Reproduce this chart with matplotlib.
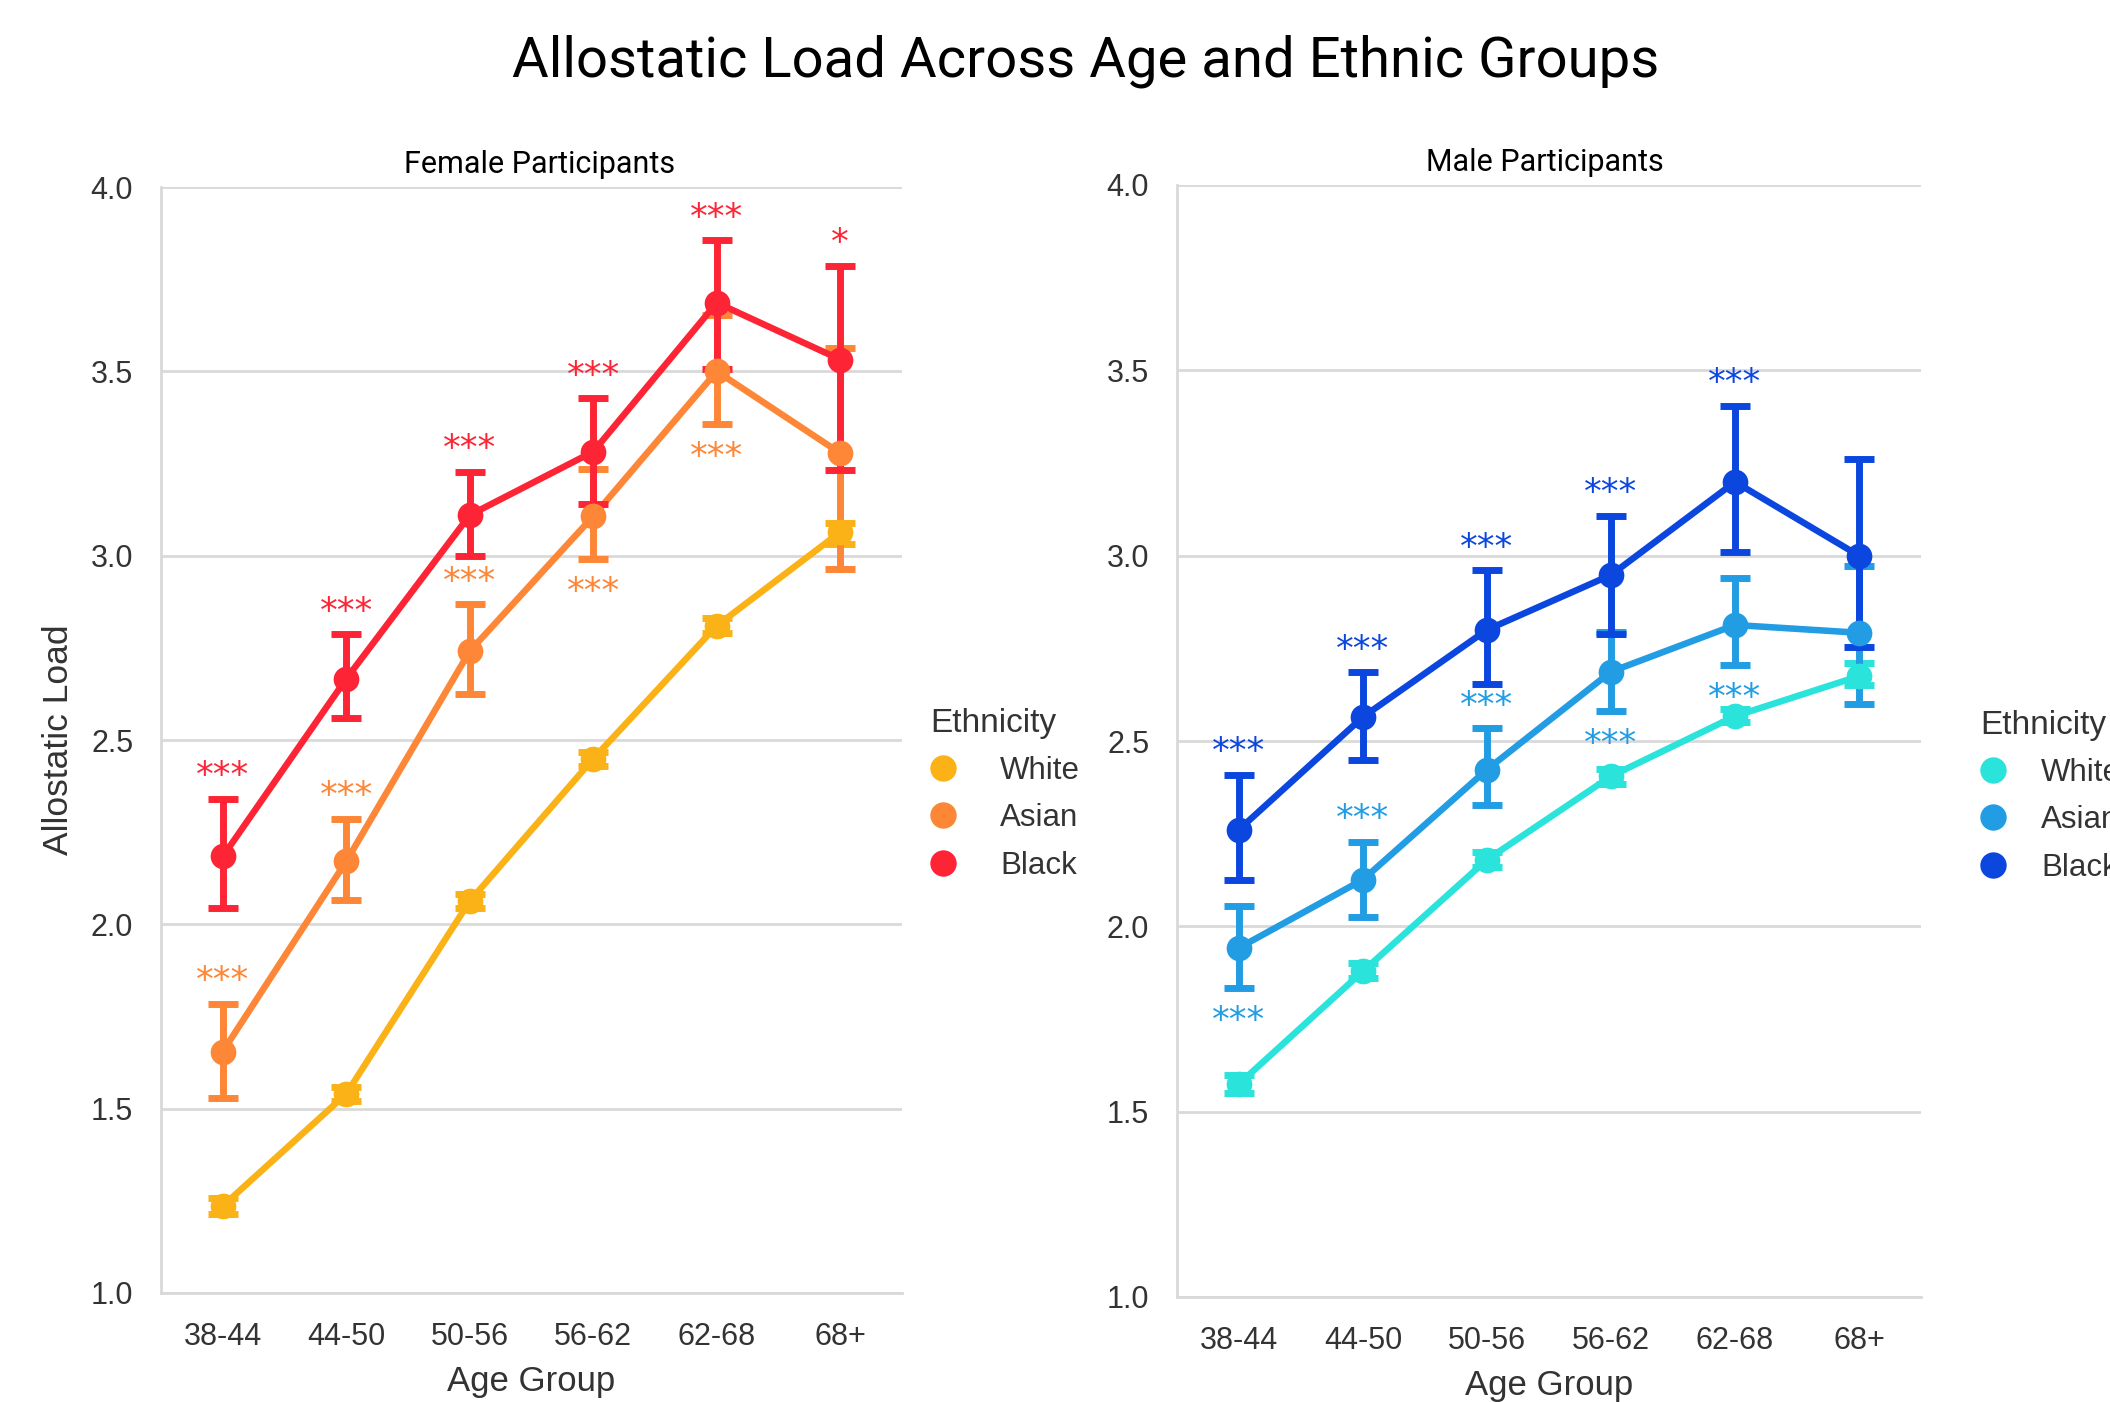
import matplotlib
matplotlib.use("Agg")
import matplotlib.pyplot as plt
from matplotlib.lines import Line2D

# ---------------- data ----------------
age_groups = ['38-44', '44-50', '50-56', '56-62', '62-68', '68+']
ethnicities = ['White', 'Asian', 'Black']

female_white_mean = [1.236, 1.540, 2.063, 2.449, 2.810, 3.064]
female_white_lo = [1.215, 1.520, 2.045, 2.430, 2.790, 3.032]
female_white_hi = [1.258, 1.560, 2.082, 2.468, 2.830, 3.088]

female_asian_mean = [1.655, 2.171, 2.741, 3.107, 3.500, 3.278]
female_asian_lo = [1.528, 2.066, 2.624, 2.990, 3.357, 2.965]
female_asian_hi = [1.785, 2.287, 2.868, 3.234, 3.653, 3.563]

female_black_mean = [2.184, 2.666, 3.110, 3.282, 3.686, 3.532]
female_black_lo = [2.043, 2.560, 3.000, 3.140, 3.505, 3.233]
female_black_hi = [2.340, 2.787, 3.227, 3.427, 3.856, 3.786]

male_white_mean = [1.575, 1.879, 2.180, 2.405, 2.567, 2.675]
male_white_lo = [1.550, 1.860, 2.160, 2.385, 2.550, 2.651]
male_white_hi = [1.600, 1.900, 2.200, 2.425, 2.585, 2.711]

male_asian_mean = [1.942, 2.126, 2.423, 2.687, 2.813, 2.792]
male_asian_lo = [1.833, 2.026, 2.327, 2.580, 2.705, 2.600]
male_asian_hi = [2.056, 2.228, 2.534, 2.795, 2.940, 2.972]

male_black_mean = [2.261, 2.565, 2.800, 2.948, 3.199, 3.000]
male_black_lo = [2.125, 2.450, 2.655, 2.790, 3.010, 2.753]
male_black_hi = [2.409, 2.685, 2.960, 3.108, 3.405, 3.261]

# significance labels (vs White) and whether drawn above or below the CI
female_asian_sig = ['***', '***', '***', '***', '***', '']
female_asian_side = ['above', 'above', 'above', 'below', 'below', '']
female_black_sig = ['***', '***', '***', '***', '***', '*']
female_black_side = ['above'] * 6
male_asian_sig = ['***', '***', '***', '***', '***', '']
male_asian_side = ['below', 'above', 'above', 'below', 'below', '']
male_black_sig = ['***', '***', '***', '***', '***', '']
male_black_side = ['above'] * 6

female_colors = ['#FBB216', '#FD8637', '#FD2535']
male_colors = ['#2AE3DB', '#229DE3', '#0B47DF']

TEXT = '#333333'
GRID = '#d9d9d9'

fig = plt.figure(figsize=(21.10, 14.02), dpi=100)
W, H = 2110, 1402

ax1 = fig.add_axes([161 / W, 1 - 1293 / H, (902 - 161) / W, (1293 - 187) / H])
ax2 = fig.add_axes([1177 / W, 1 - 1297 / H, (1921 - 1177) / W, (1297 - 185) / H])


def draw_panel(ax, series, colors, sigs, title, title_x, ylabel):
    x = list(range(len(age_groups)))
    for (mean, lo, hi), c in zip(series, colors):
        yerr = [[m - l for m, l in zip(mean, lo)], [h - m for m, h in zip(mean, hi)]]
        ax.plot(x, mean, color=c, lw=4.7, zorder=3, solid_capstyle='round')
        ax.errorbar(x, mean, yerr=yerr, fmt='none', ecolor=c, elinewidth=5,
                    capsize=11, capthick=5, zorder=3)
        ax.plot(x, mean, 'o', color=c, ms=18.5, zorder=4, markeredgewidth=0)
    for (mean, lo, hi), c, (labels, sides) in zip(series[1:], colors[1:], sigs):
        for i, (lab, side) in enumerate(zip(labels, sides)):
            if not lab:
                continue
            if side == 'above':
                ax.annotate(lab, (i, hi[i]), xytext=(0, 9), textcoords='offset points',
                            ha='center', va='baseline', color=c, fontsize=25.5,
                            family='DejaVu Sans', zorder=5)
            else:
                ax.annotate(lab, (i, lo[i]), xytext=(0, -31), textcoords='offset points',
                            ha='center', va='baseline', color=c, fontsize=25.5,
                            family='DejaVu Sans', zorder=5)

    ax.set_xlim(-0.5, 5.5)
    ax.set_ylim(1.0, 4.0)
    ax.set_yticks([1.0, 1.5, 2.0, 2.5, 3.0, 3.5, 4.0])
    ax.set_xticks(x)
    ax.set_xticklabels(age_groups)
    ax.grid(axis='y', color=GRID, lw=2, zorder=0)
    ax.grid(axis='x', visible=False)
    ax.set_axisbelow(True)
    for s in ['top', 'right']:
        ax.spines[s].set_visible(False)
    for s in ['left', 'bottom']:
        ax.spines[s].set_color(GRID)
        ax.spines[s].set_linewidth(2)
    ax.tick_params(axis='both', length=0, pad=20, labelsize=22, labelcolor=TEXT)
    ax.tick_params(axis='x', pad=21)
    for lab in ax.get_xticklabels() + ax.get_yticklabels():
        lab.set_family('Liberation Sans')
    ax.set_xlabel('Age Group', fontsize=25, color=TEXT, family='Liberation Sans', labelpad=9)
    if ylabel:
        ax.set_ylabel(ylabel, fontsize=25.5, color=TEXT, family='Liberation Sans', labelpad=11)
    ax.set_title(title, fontsize=22, family='Roboto', color='black', pad=10, x=title_x)


draw_panel(ax1,
           [(female_white_mean, female_white_lo, female_white_hi),
            (female_asian_mean, female_asian_lo, female_asian_hi),
            (female_black_mean, female_black_lo, female_black_hi)],
           female_colors,
           [(female_asian_sig, female_asian_side), (female_black_sig, female_black_side)],
           'Female Participants', 0.511, 'Allostatic Load')
draw_panel(ax2,
           [(male_white_mean, male_white_lo, male_white_hi),
            (male_asian_mean, male_asian_lo, male_asian_hi),
            (male_black_mean, male_black_lo, male_black_hi)],
           male_colors,
           [(male_asian_sig, male_asian_side), (male_black_sig, male_black_side)],
           'Male Participants', 0.495, None)


def add_legend(ax, colors, x_px, y_px, textpad):
    handles = [Line2D([], [], marker='o', ls='none', color=c, ms=19, markeredgewidth=0)
               for c in colors]
    leg = ax.legend(handles, ethnicities, title='Ethnicity', loc='upper left',
                    bbox_to_anchor=(x_px / W, 1 - y_px / H), bbox_transform=fig.transFigure,
                    frameon=False, borderpad=0, borderaxespad=0, handlelength=0.85,
                    handletextpad=textpad, labelspacing=0.55, alignment='left',
                    prop={'family': 'Liberation Sans', 'size': 22.5},
                    title_fontproperties={'family': 'Liberation Sans', 'size': 24})
    for t in leg.get_texts():
        t.set_color(TEXT)
    leg.get_title().set_color(TEXT)
    leg.set_clip_on(False)


add_legend(ax1, female_colors, 930, 708, 1.4)
add_legend(ax2, male_colors, 1980, 710, 1.1)

fig.text(1086 / W, 1 - 61 / H, 'Allostatic Load Across Age and Ethnic Groups',
         ha='center', va='center', fontsize=40.5, family='Roboto', color='black')

fig.savefig('out.png', dpi=100)
